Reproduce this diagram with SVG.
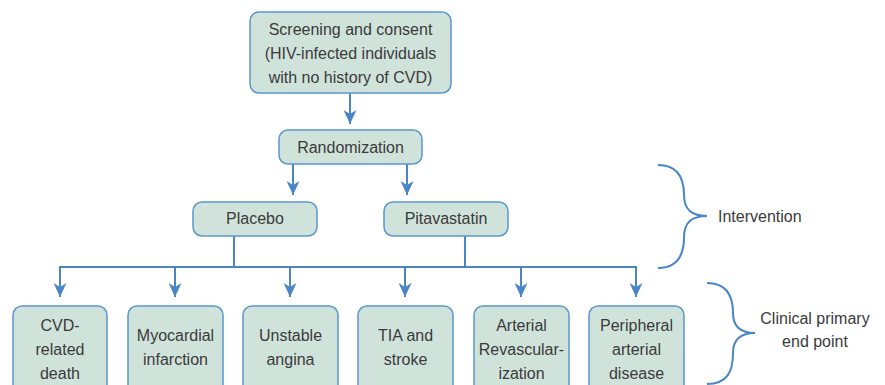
<svg xmlns="http://www.w3.org/2000/svg" width="885" height="385" viewBox="0 0 885 385">
<style>
.box{fill:#d0e3da;stroke:#5b97cf;stroke-width:1.5}
.t{font-family:"Liberation Sans",Arial,sans-serif;font-size:16px;fill:#3a3a3a;text-anchor:middle}
.tl{font-family:"Liberation Sans",Arial,sans-serif;font-size:16px;fill:#3a3a3a}
.c{fill:none;stroke:#4a86c5;stroke-width:2}
</style>
<defs>
<marker id="ah" viewBox="0 0 14 13" refX="14" refY="6.5" markerWidth="14" markerHeight="13" orient="auto" markerUnits="userSpaceOnUse">
<path d="M0,0 L14,6.5 L0,13 L4,6.5 z" fill="#4a86c5"/>
</marker>
</defs>
<g id="connectors">
<path class="c" d="M350,93 V124" marker-end="url(#ah)"/>
<path class="c" d="M293,164 V195" marker-end="url(#ah)"/>
<path class="c" d="M407,164 V195" marker-end="url(#ah)"/>
<path class="c" d="M234,236 V267 M465,236 V267 M59,267 H636"/>
<path class="c" d="M60,266 V297" marker-end="url(#ah)"/>
<path class="c" d="M175,267 V297" marker-end="url(#ah)"/>
<path class="c" d="M290,267 V297" marker-end="url(#ah)"/>
<path class="c" d="M405,267 V297" marker-end="url(#ah)"/>
<path class="c" d="M521,267 V297" marker-end="url(#ah)"/>
<path class="c" d="M636,266 V297" marker-end="url(#ah)"/>
</g>
<g id="screening"><rect class="box" x="250" y="12" width="201" height="81" rx="9"/>
<text class="t" x="350.5" y="35">Screening and consent</text>
<text class="t" x="350.5" y="59">(HIV-infected individuals</text>
<text class="t" x="350.5" y="83">with no history of CVD)</text></g>
<g id="randomization"><rect class="box" x="279" y="130" width="143" height="34" rx="9"/>
<text class="t" x="350.5" y="153">Randomization</text></g>
<g id="placebo"><rect class="box" x="193" y="202" width="124" height="34" rx="9"/>
<text class="t" x="255" y="224">Placebo</text></g>
<g id="pitavastatin"><rect class="box" x="384" y="202" width="124" height="34" rx="9"/>
<text class="t" x="446" y="224">Pitavastatin</text></g>
<g id="cvd"><rect class="box" x="13" y="306" width="94" height="90" rx="9"/>
<text class="t" x="60" y="331">CVD-</text><text class="t" x="60" y="355">related</text><text class="t" x="60" y="379">death</text></g>
<g id="mi"><rect class="box" x="128" y="306" width="95" height="90" rx="9"/>
<text class="t" x="175.5" y="341">Myocardial</text><text class="t" x="175.5" y="365">infarction</text></g>
<g id="angina"><rect class="box" x="243" y="306" width="95" height="90" rx="9"/>
<text class="t" x="290.5" y="341">Unstable</text><text class="t" x="290.5" y="365">angina</text></g>
<g id="tia"><rect class="box" x="358" y="306" width="95" height="90" rx="9"/>
<text class="t" x="405.5" y="341">TIA and</text><text class="t" x="405.5" y="365">stroke</text></g>
<g id="revasc"><rect class="box" x="474" y="306" width="95" height="90" rx="9"/>
<text class="t" x="521.5" y="331">Arterial</text><text class="t" x="521.5" y="355">Revascular-</text><text class="t" x="521.5" y="379">ization</text></g>
<g id="pad"><rect class="box" x="589" y="306" width="95" height="90" rx="9"/>
<text class="t" x="636.5" y="331">Peripheral</text><text class="t" x="636.5" y="355">arterial</text><text class="t" x="636.5" y="379">disease</text></g>
<g id="intervention">
<path class="c" d="M658,165 C678,165 684,178 684,195 C684,210 692,216 707,216 C692,216 684,222 684,237 C684,254 678,268 658,268"/>
<text class="tl" x="718" y="222">Intervention</text></g>
<g id="clinical">
<path class="c" d="M707,283 C727,283 733,296 733,313 C733,327 741,333 755,333 C741,333 733,339 733,353 C733,372 727,384 707,384"/>
<text class="t" x="815" y="324">Clinical primary</text>
<text class="t" x="815" y="347">end point</text></g>
</svg>
